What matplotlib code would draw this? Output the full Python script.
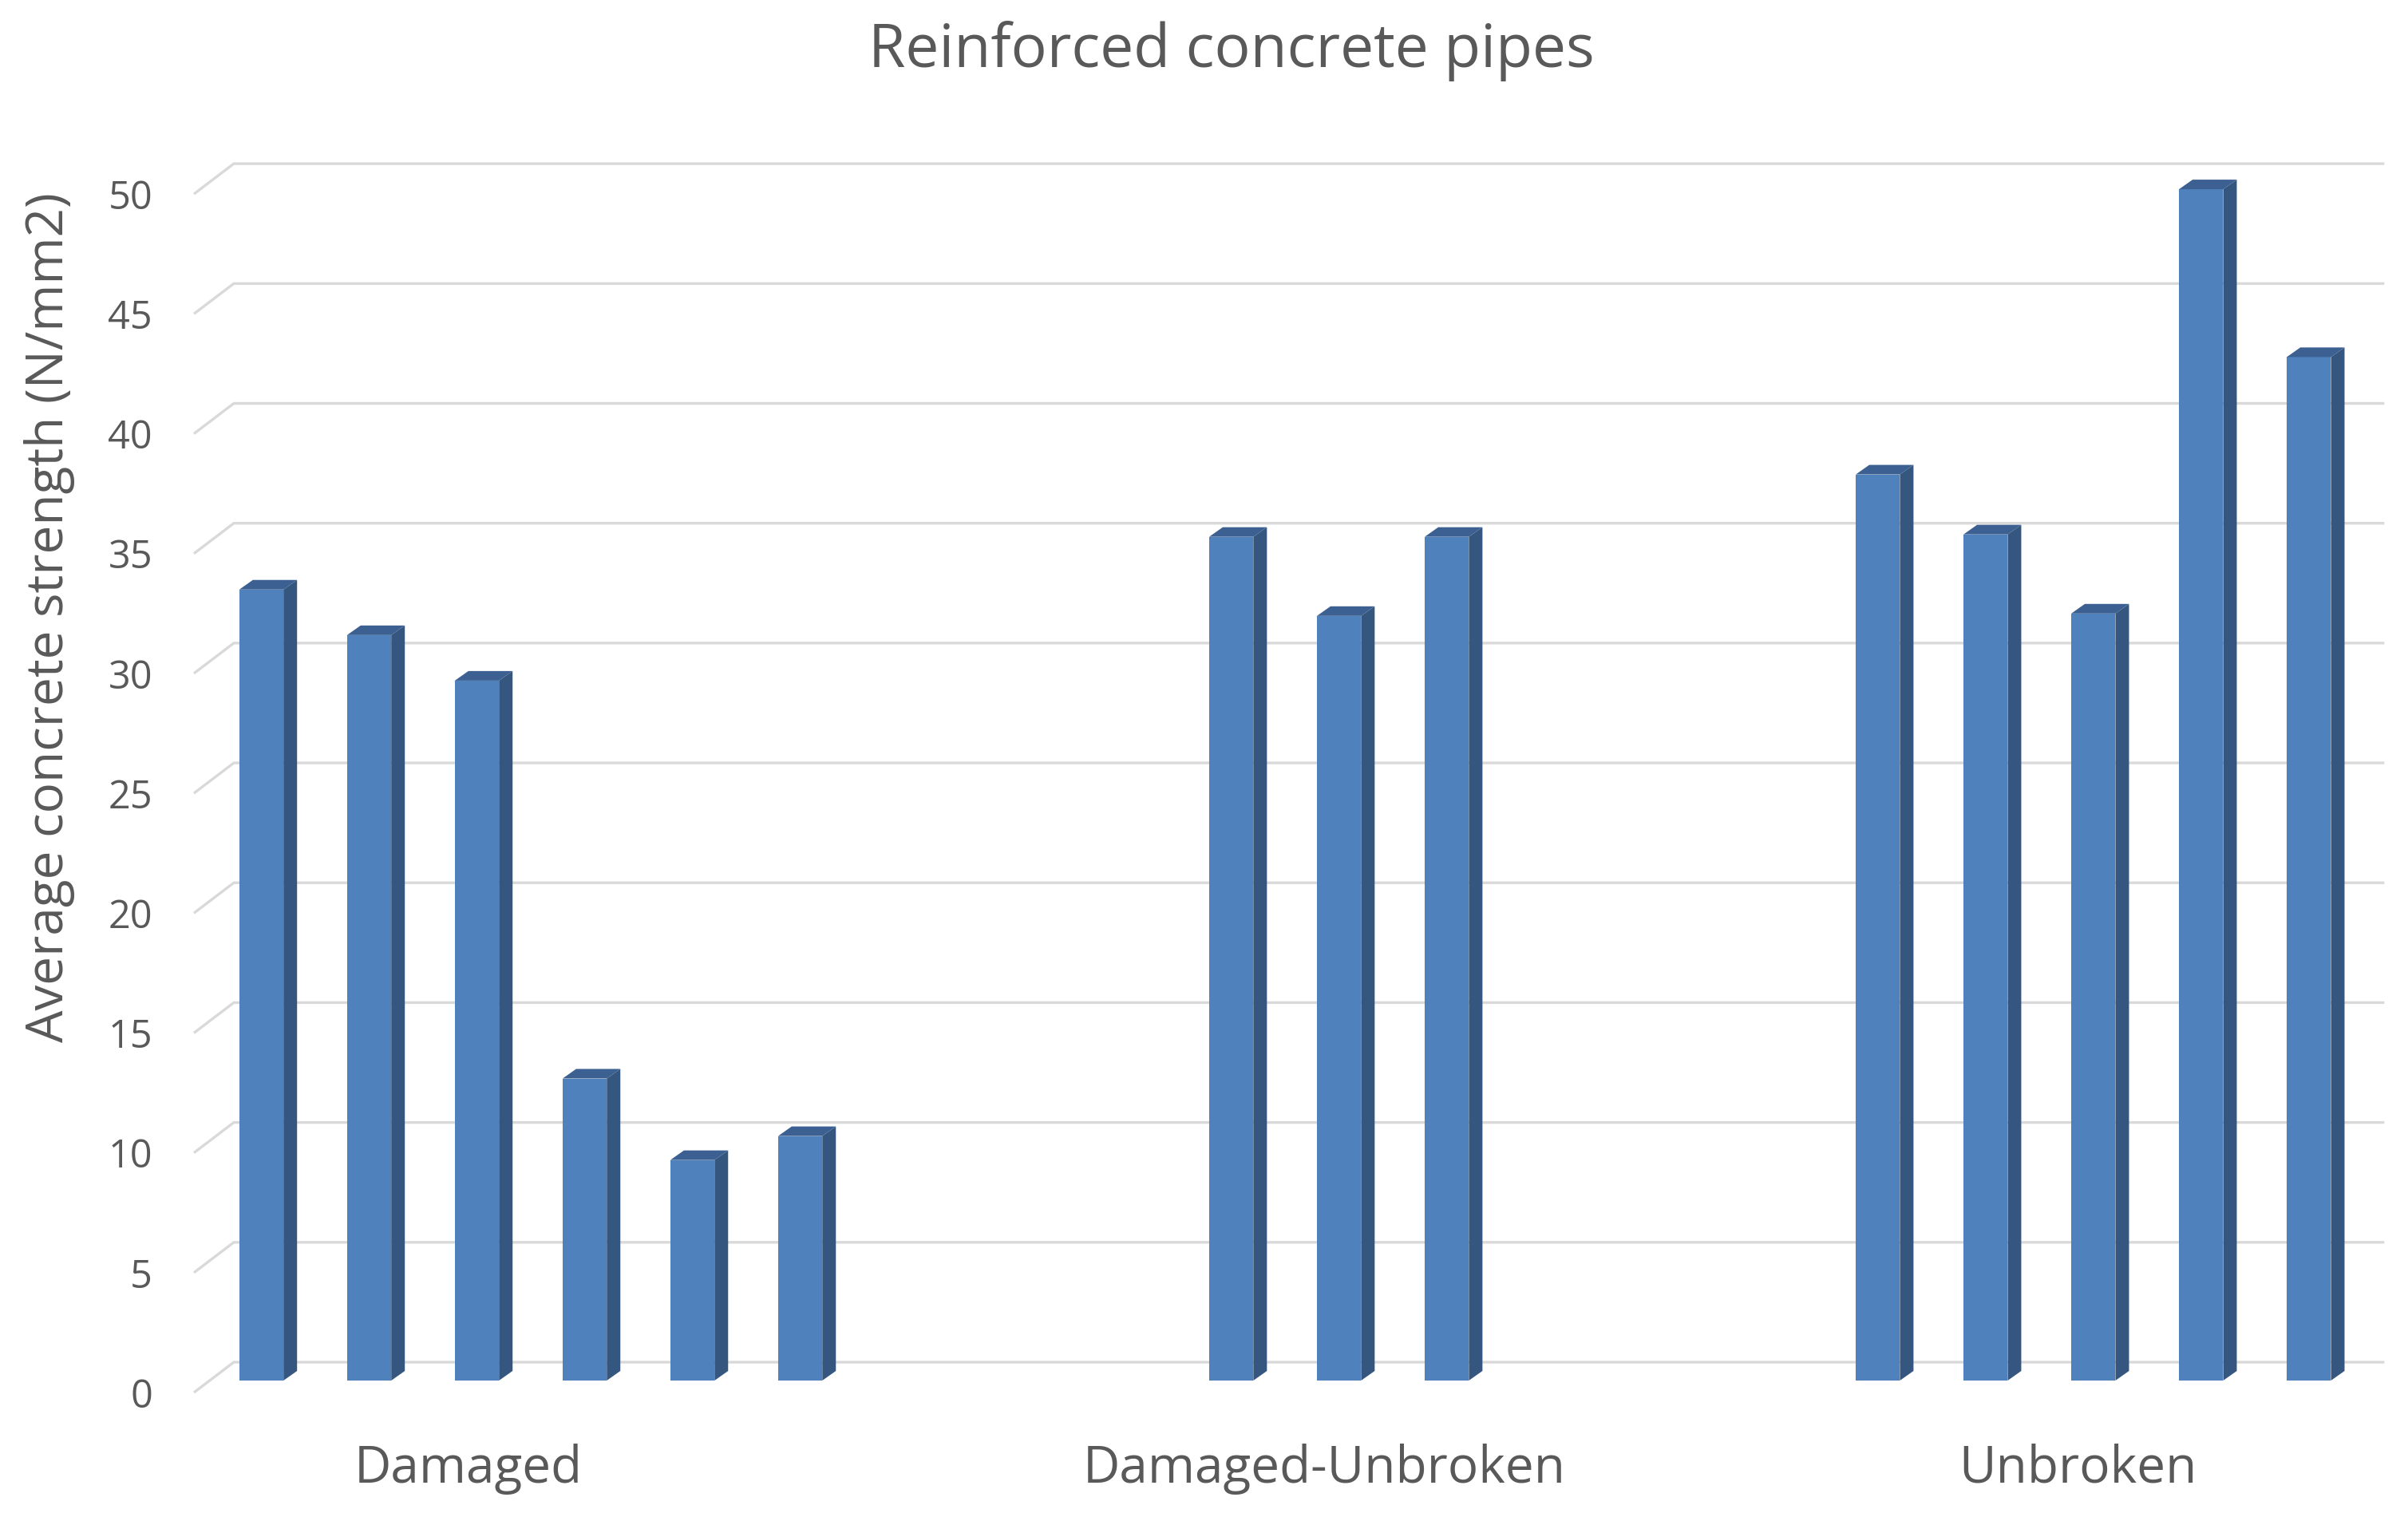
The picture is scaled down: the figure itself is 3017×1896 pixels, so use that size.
import numpy as np
import matplotlib.pyplot as plt
from matplotlib.patches import Polygon

plt.rcParams['font.family'] = ['Open Sans', 'DejaVu Sans']

categories = ["Damaged", "Damaged-Unbroken", "Unbroken"]
damaged = [33.0, 31.1, 29.2, 12.6, 9.2, 10.2]
damaged_unbroken = [35.2, 31.9, 35.2]
unbroken = [37.8, 35.3, 32.0, 49.7, 42.7]
yticks = [0, 5, 10, 15, 20, 25, 30, 35, 40, 45, 50]

series = [damaged, damaged_unbroken, unbroken]
group_start = [0, 9, 15]
label_pos = [1.92, 9.86, 16.86]

# fake 3d look, in slot / value units
bw = 0.41
sx, sy = 0.126, 0.40      # depth of a bar
wx, wy = 0.37, 1.265      # floor depth, front edge -> back wall
base = -0.766             # bar front face sits in front of the wall
wall_x = -0.256

front_c = "#4F81BD"
side_c = "#35577F"
top_c = "#3B6091"
grid_c = "#D9D9D9"
text_c = "#595959"

fig = plt.figure(figsize=(30.17, 18.96), dpi=100)
ax = fig.add_axes([0.0638, 0.068, 0.9286, 0.8555])
ax.set_xlim(-1.0, 19.75)
ax.set_ylim(-2, 52)

for v in yticks:
    ax.plot([wall_x - wx, wall_x, 19.70], [v - wy, v, v], color=grid_c, lw=2.4,
            zorder=1, solid_joinstyle='miter', solid_capstyle='butt')

for start, vals in zip(group_start, series):
    xs = start + np.arange(len(vals))
    ax.bar(xs, vals, width=bw, bottom=base, color=front_c, linewidth=0, zorder=3)
    for x, v in zip(xs, vals):
        top = base + v
        l, r = x - bw / 2, x + bw / 2
        ax.add_patch(Polygon([(l, top), (r, top), (r + sx, top + sy), (l + sx, top + sy)],
                             closed=True, facecolor=top_c, edgecolor='none', zorder=4))
        ax.add_patch(Polygon([(r, base), (r + sx, base + sy), (r + sx, top + sy), (r, top)],
                             closed=True, facecolor=side_c, edgecolor='none', zorder=4))

ax.set_yticks(np.array(yticks) - wy, labels=[str(t) for t in yticks])
ax.set_xticks(label_pos, labels=categories)
ax.tick_params(axis='y', length=0, pad=1, labelsize=35, labelcolor=text_c)
ax.tick_params(axis='x', length=0, pad=30, labelsize=46, labelcolor=text_c)
for s in ax.spines.values():
    s.set_visible(False)

fig.text(0.5114, 1 - 64 / 1896, "Reinforced concrete pipes", ha='center', va='center',
         fontsize=54, color=text_c)
fig.text(0.0206, 0.5918, "Average concrete strength (N/mm2)", ha='center', va='center',
         rotation=90, fontsize=46, color=text_c)

fig.savefig("out.png", dpi=100, facecolor='white')
